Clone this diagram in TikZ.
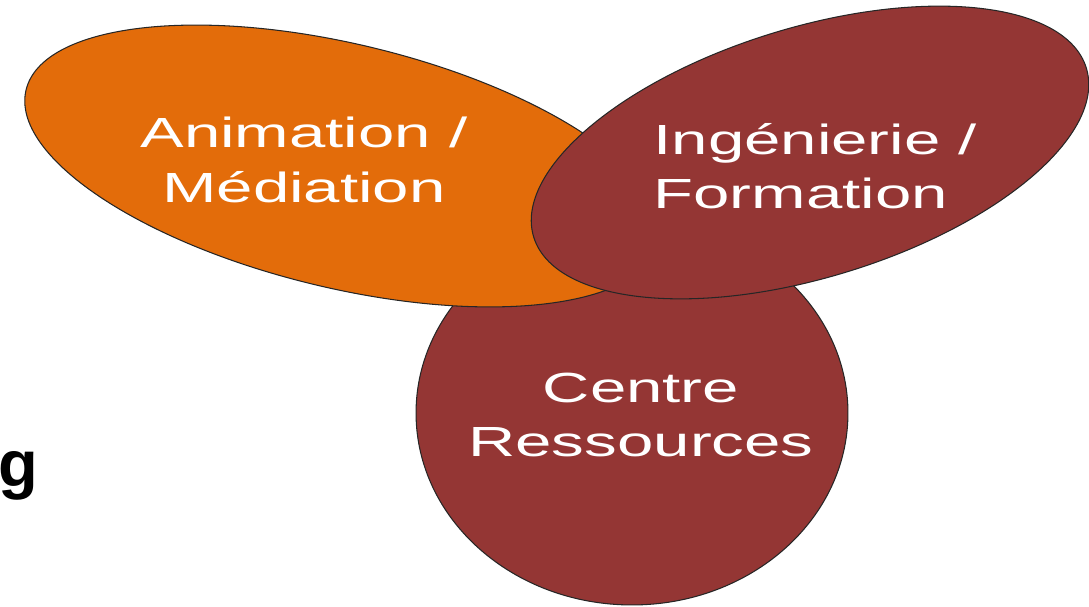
\documentclass[tikz,border=0pt]{standalone}
\usepackage{fontspec}
\setmainfont{Liberation Sans}
\usetikzlibrary{shapes,positioning}
\definecolor{orangeB}{HTML}{E36C0A}
\definecolor{brique}{HTML}{943634}
\tikzset{x=0.02cm, y=-0.02cm, % one unit is one pixel of the sketch, y going down
lbl/.style={text=white, align=center, font=\fontsize{24}{31}\selectfont, xscale=1.55, transform shape}, % white labels, stretched
}

\begin{document}
\begin{tikzpicture}[BLOB/.style args = {#1/#2/#3}{ellipse, draw=black!85, line width=0.6pt, fill=#1, inner sep=0pt, minimum width=#2, minimum height=#3}]
\useasboundingbox (0,0) rectangle (1089,607);
\node[BLOB=brique/8.64cm/7.68cm] (centre) at (632,413) {};
\node[BLOB=orangeB/13.04cm/4.88cm, rotate=-13.5] (anim) at (343,166) {};
\node[BLOB=brique/11.56cm/5cm, rotate=17] (inge) at (810,152.5) {};
\node[lbl] (animtxt) at (304,160) {Animation /\\Médiation};
\node[lbl, align=left, anchor=west, inner sep=0pt] (ingetxt) at (653,166) {Ingénierie /\\Formation};
\node[lbl] (centretxt) at (641,415) {Centre\\Ressources};
% end of a title, at the margin
\node[anchor=base east, inner sep=0pt, font=\bfseries\fontsize{37}{40}\selectfont] (cut) at (39,487) {g};
\end{tikzpicture}
\end{document}
